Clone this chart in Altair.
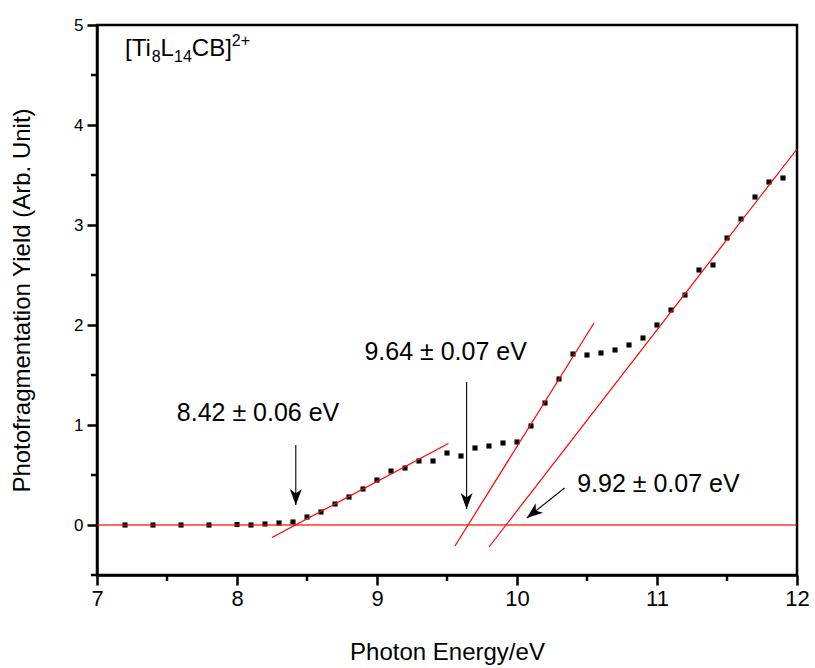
import altair as alt
import pandas as pd
import math

# ---------------- data ----------------
energy = [7.2, 7.4, 7.6, 7.8, 8.0, 8.1, 8.2, 8.3, 8.4, 8.5, 8.6, 8.7, 8.8, 8.9,
          9.0, 9.1, 9.2, 9.3, 9.4, 9.5, 9.6, 9.7, 9.8, 9.9,
          10.0, 10.1, 10.2, 10.3, 10.4, 10.5, 10.6, 10.7, 10.8, 10.9,
          11.0, 11.1, 11.2, 11.3, 11.4, 11.5, 11.6, 11.7, 11.8, 11.9]
yield_vals = [0, 0, 0, 0, 0.005, 0.0, 0.01, 0.02, 0.03, 0.08, 0.13, 0.21, 0.28, 0.36,
              0.45, 0.54, 0.57, 0.64, 0.64, 0.72, 0.69, 0.77, 0.79, 0.82,
              0.83, 0.99, 1.22, 1.46, 1.71, 1.70, 1.72, 1.75, 1.80, 1.87,
              2.00, 2.15, 2.30, 2.55, 2.60, 2.87, 3.06, 3.28, 3.43, 3.47]

# baseline (zero) line
base_x = [7, 12]
base_y = [0, 0]

# linear fit lines (end points)
fit_id = ["A", "A", "B", "B", "C", "C"]
fit_x = [8.25, 9.51, 9.557, 10.55, 9.80, 12.0]
fit_y = [-0.125, 0.815, -0.21, 2.02, -0.22, 3.76]

# arrows: start -> tip
arrow_x0 = [8.42, 9.64, 10.34]
arrow_y0 = [0.80, 1.43, 0.37]
arrow_x1 = [8.42, 9.64, 10.07]
arrow_y1 = [0.20, 0.16, 0.07]

# threshold labels
label_text = ["8.42 \u00b1 0.06 eV", "9.64 \u00b1 0.07 eV", "9.92 \u00b1 0.07 eV"]
label_x = [8.15, 9.49, 11.01]
label_y = [1.12, 1.73, 0.41]

# species label anchor
species_x = [7.2]
species_y = [4.69]

x_major = [7, 8, 9, 10, 11, 12]
x_minor = [7.5, 8.5, 9.5, 10.5, 11.5]
y_major = [0, 1, 2, 3, 4, 5]
y_minor = [-0.5, 0.5, 1.5, 2.5, 3.5, 4.5]

FONT = "Liberation Sans"
W, H = 700, 550

# ---------------- frames ----------------
pts = pd.DataFrame({"x": energy, "y": yield_vals})
base = pd.DataFrame({"x": base_x, "y": base_y})
fits = pd.DataFrame({"id": fit_id, "x": fit_x, "y": fit_y})
arrows = pd.DataFrame({"x0": arrow_x0, "y0": arrow_y0, "x1": arrow_x1, "y1": arrow_y1})
arrows["ang"] = [
    math.degrees(math.atan2(-((x1 - x0) * 140.0), (-(y1 - y0) * 100.0))) % 360
    for x0, y0, x1, y1 in zip(arrow_x0, arrow_y0, arrow_x1, arrow_y1)
]
labels = pd.DataFrame({"t": label_text, "x": label_x, "y": label_y})
species = pd.DataFrame({"x": species_x, "y": species_y})
xt_minor = pd.DataFrame({"v": x_minor})
yt_minor = pd.DataFrame({"v": y_minor})

xs = alt.Scale(domain=[7, 12], nice=False, zero=False)
ys = alt.Scale(domain=[-0.5, 5], nice=False, zero=False)

x_axis = alt.Axis(
    values=x_major, format="d", title="Photon Energy/eV", orient="bottom",
    ticks=True, tickSize=10, tickWidth=2.5, tickColor="black",
    domain=True, domainWidth=2.5, domainColor="black", labelFlush=False,
    labelFontSize=22, labelPadding=3, titleFontSize=24, titlePadding=31, grid=False,
    titleFontWeight="normal", labelColor="black", titleColor="black",
    labelFont=FONT, titleFont=FONT)
y_axis = alt.Axis(
    values=y_major, format="d", title="Photofragmentation Yield (Arb. Unit)", orient="left",
    ticks=True, tickSize=10, tickWidth=2.5, tickColor="black",
    domain=True, domainWidth=2.5, domainColor="black", labelFlush=False,
    labelFontSize=17, labelPadding=4, titleFontSize=24, titlePadding=39,
    grid=False, titleFontWeight="normal", labelColor="black", titleColor="black",
    labelFont=FONT, titleFont=FONT)


def X(f):
    return alt.X(f, scale=xs, axis=x_axis)


def Y(f):
    return alt.Y(f, scale=ys, axis=y_axis)


# minor tick marks (drawn outward from the axes)
xtick_minor = alt.Chart(xt_minor).mark_rule(color="black", strokeWidth=2.5).encode(
    x=X("v:Q"), y=alt.value(H), y2=alt.value(H + 6))
ytick_minor = alt.Chart(yt_minor).mark_rule(color="black", strokeWidth=2.5).encode(
    y=Y("v:Q"), x=alt.value(0), x2=alt.value(-6))

zero_line = alt.Chart(base).mark_line(color="#ff0000", opacity=0.6, strokeWidth=2).encode(
    x=X("x:Q"), y=Y("y:Q"),
)

fit_lines = alt.Chart(fits).mark_line(color="#ff0000", strokeWidth=1.2).encode(
    x=X("x:Q"), y=Y("y:Q"), detail="id:N"
)

arrow_lines = alt.Chart(arrows).mark_rule(color="black", strokeWidth=1.1).encode(
    x=X("x0:Q"), y=Y("y0:Q"), x2="x1:Q", y2="y1:Q"
)

head_path = "M0,0 L-0.75,-2 L0,-1.45 L0.75,-2 Z"
arrow_heads = alt.Chart(arrows).mark_point(
    shape=head_path, filled=True, color="black", opacity=1, size=256, strokeWidth=0
).encode(
    x=X("x1:Q"), y=Y("y1:Q"), angle=alt.Angle("ang:Q", scale=None)
)

points = alt.Chart(pts).mark_square(size=26, color="black", opacity=1).encode(
    x=X("x:Q"), y=Y("y:Q")
)

label_marks = alt.Chart(labels).mark_text(
    font=FONT, fontSize=25, color="black", align="center", baseline="middle"
).encode(x=X("x:Q"), y=Y("y:Q"), text="t:N")

# species label built from pieces (main / subscript / superscript)
M, S = 24, 16
pieces = [("[Ti", 0.0, 0, M), ("8", 26.7, 6, S), ("L", 35.6, 0, M),
          ("14", 49.0, 6, S), ("CB]", 66.8, 0, M), ("2+", 106.8, -10, S)]
species_layers = []
for txt, dx, dy, fs in pieces:
    species_layers.append(
        alt.Chart(species).mark_text(
            text=txt, font=FONT, fontSize=fs, color="black", align="left",
            baseline="alphabetic", dx=dx, dy=dy
        ).encode(x=X("x:Q"), y=Y("y:Q"))
    )

chart = alt.layer(
    points, zero_line, fit_lines, arrow_lines, arrow_heads, label_marks,
    xtick_minor, ytick_minor, *species_layers
).properties(
    width=W, height=H,
    padding={"left": 97, "top": 25, "right": 18, "bottom": 93},
    autosize=alt.AutoSizeParams(type="none"),
    background="white",
).configure_view(
    stroke="black", strokeWidth=2.5
)

chart.save("out.html", embed_options={"renderer": "svg", "actions": False})
